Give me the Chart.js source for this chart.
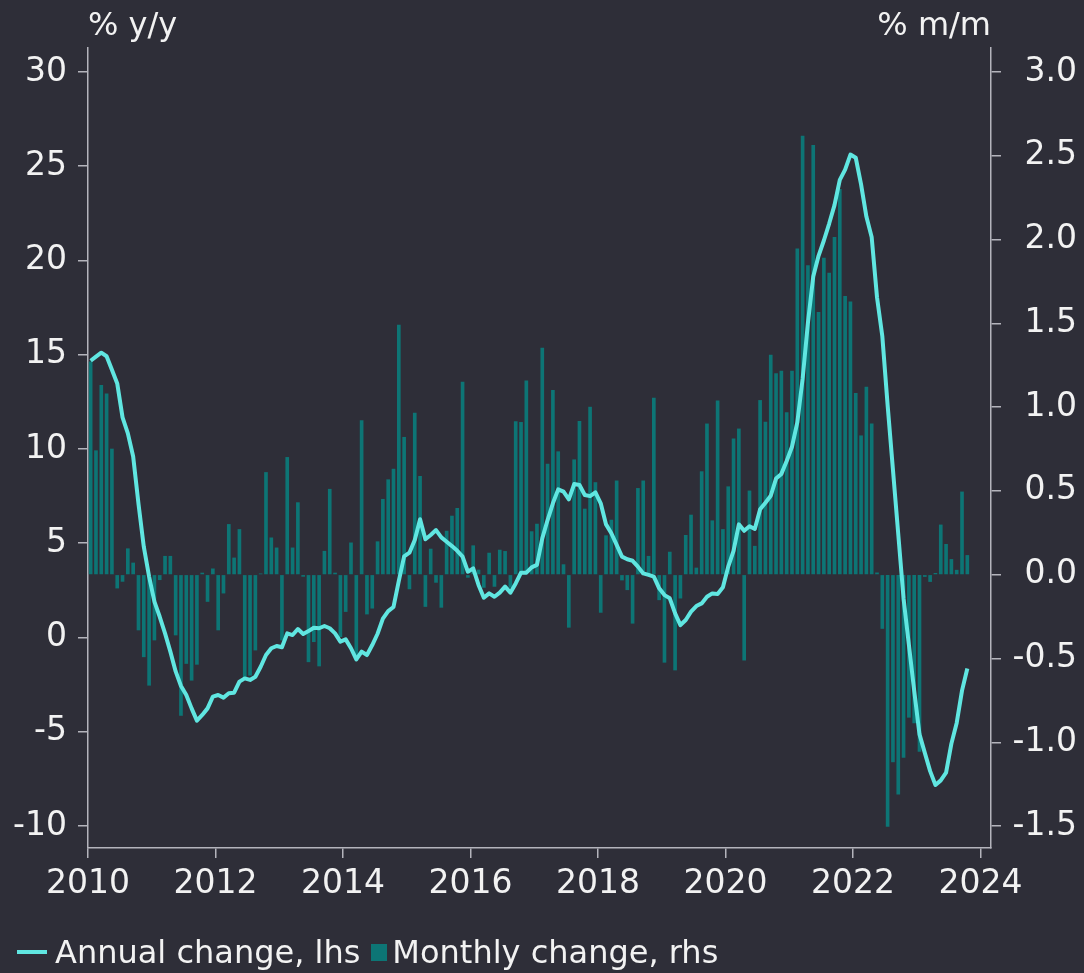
<!DOCTYPE html>
<html>
<head>
<meta charset="utf-8">
<title>Annual and monthly change</title>
<script src="https://cdn.jsdelivr.net/npm/chart.js@4.4.0/dist/chart.umd.min.js"></script>
<style>
  html, body { margin: 0; padding: 0; background: #2e2e38; }
  #wrap { position: relative; width: 1084px; height: 973px; background: #2e2e38; }
  #chart { display: block; }
  .legend {
    position: absolute; left: 17px; top: 932px; height: 40px;
    display: flex; align-items: center; white-space: nowrap;
    font: 32px "DejaVu Sans", sans-serif; line-height: 40px; color: #f2f2f2;
  }
  .swatch-line { width: 30px; height: 4px; background: #60e6e1; margin-right: 8px; }
  .swatch-box { width: 16px; height: 17px; background: #0d7575; margin: 0 5px 0 11px; }
</style>
</head>
<body>
<div id="wrap">
  <canvas id="chart"></canvas>
  <div class="legend">
    <span class="swatch-line"></span><span>Annual change, lhs</span>
    <span class="swatch-box"></span><span>Monthly change, rhs</span>
  </div>
</div>
<script>
// Monthly series, Jan 2010 - Oct 2023
const startYear = 2010

// Annual change, % y/y (left axis)
const annual = [
  14.68, 14.9, 15.11, 14.92, 14.2, 13.48, 11.68, 10.83, 9.6, 7.1, 4.82, 3.23,
  1.9, 1.1, 0.22, -0.75, -1.8, -2.57, -3.05, -3.76, -4.41, -4.11, -3.76, -3.14,
  -3.05, -3.19, -2.96, -2.93, -2.34, -2.17, -2.25, -2.08, -1.55, -0.93, -0.57, -0.45,
  -0.52, 0.22, 0.13, 0.45, 0.19, 0.34, 0.52, 0.49, 0.61, 0.49, 0.22, -0.22,
  -0.1, -0.57, -1.16, -0.75, -0.93, -0.4, 0.2, 1.0, 1.4, 1.62, 3.0, 4.3,
  4.5, 5.17, 6.27, 5.21, 5.44, 5.7, 5.31, 5.08, 4.85, 4.6, 4.29, 3.49,
  3.67, 2.79, 2.11, 2.34, 2.16, 2.38, 2.7, 2.38, 2.87, 3.44, 3.44, 3.72,
  3.85, 5.26, 6.23, 7.12, 7.86, 7.74, 7.33, 8.14, 8.09, 7.56, 7.5, 7.7,
  7.12, 6.0, 5.53, 4.91, 4.29, 4.15, 4.07, 3.76, 3.4, 3.32, 3.23, 2.61,
  2.25, 2.08, 1.28, 0.66, 0.93, 1.37, 1.67, 1.81, 2.16, 2.34, 2.31, 2.66,
  3.76, 4.6, 6.0, 5.66, 5.9, 5.76, 6.8, 7.15, 7.52, 8.43, 8.68, 9.36,
  10.12, 11.41, 13.72, 16.7, 19.15, 20.25, 21.06, 21.96, 22.94, 24.28, 24.82, 25.62,
  25.45, 24.04, 22.33, 21.23, 18.05, 15.98, 12.32, 8.9, 5.48, 2.06, -0.38, -2.82,
  -5.14, -6.12, -7.09, -7.82, -7.58, -7.17, -5.63, -4.53, -2.82, -1.64
]

// Monthly change, % m/m (right axis)
const monthly = [
  1.27, 0.74, 1.13, 1.08, 0.75, -0.08, -0.04, 0.155, 0.07, -0.33, -0.49, -0.66,
  -0.39, -0.03, 0.11, 0.11, -0.36, -0.84, -0.53, -0.63, -0.535, 0.01, -0.16, 0.035,
  -0.33, -0.11, 0.3, 0.1, 0.27, -0.61, -0.6, -0.45, 0.005, 0.61, 0.22, 0.16,
  -0.39, 0.7, 0.16, 0.43, -0.01, -0.52, -0.4, -0.545, 0.14, 0.51, 0.01, -0.37,
  -0.22, 0.19, -0.48, 0.92, -0.235, -0.2, 0.197, 0.45, 0.567, 0.63, 1.49, 0.82,
  -0.085, 0.965, 0.587, -0.19, 0.153, -0.046, -0.195, 0.26, 0.35, 0.396, 1.15, -0.016,
  0.173, 0.028, -0.076, 0.129, -0.07, 0.147, 0.139, -0.076, 0.913, 0.909, 1.157, 0.257,
  0.302, 1.352, 0.66, 1.1, 0.734, 0.06, -0.314, 0.686, 0.915, 0.392, 1.0, 0.55,
  -0.225, 0.233, 0.326, 0.56, -0.032, -0.09, -0.29, 0.515, 0.56, 0.11, 1.054, -0.15,
  -0.523, 0.135, -0.569, -0.14, 0.235, 0.356, 0.04, 0.615, 0.9, 0.322, 1.038, 0.27,
  0.525, 0.81, 0.87, -0.51, 0.5, 0.17, 1.04, 0.91, 1.31, 1.2, 1.215, 0.967,
  1.215, 1.944, 2.617, 1.845, 2.562, 1.565, 1.889, 1.8, 2.013, 2.3, 1.661, 1.628,
  1.082, 0.829, 1.12, 0.9, 0.011, -0.321, -1.502, -1.117, -1.31, -1.09, -0.851, -0.884,
  -1.054, -0.011, -0.041, 0.008, 0.297, 0.181, 0.091, 0.027, 0.494, 0.115
]

// Tick labels
const yearTicks = [2010, 2012, 2014, 2016, 2018, 2020, 2022, 2024]
const leftTicks = [-10, -5, 0, 5, 10, 15, 20, 25, 30]
const rightTicks = [-1.5, -1.0, -0.5, 0.0, 0.5, 1.0, 1.5, 2.0, 2.5, 3.0]

// Mid-month position of each observation on the year axis
const months = annual.map((_, i) => startYear + (i + 0.5) / 12)

const textColor = "#f2f2f2"
const axisColor = "#b4b4bc"

Chart.defaults.font.family = '"DejaVu Sans", sans-serif'
Chart.defaults.font.size = 33
Chart.defaults.color = textColor

// Unit labels above both value axes
const axisUnits = {
  id: "axisUnits",
  afterDraw(chart) {
    const { ctx, chartArea } = chart
    ctx.save()
    ctx.font = '32px "DejaVu Sans", sans-serif'
    ctx.fillStyle = textColor
    ctx.textBaseline = "alphabetic"
    ctx.textAlign = "left"
    ctx.fillText("% y/y", chartArea.left, 35)
    ctx.textAlign = "right"
    ctx.fillText("% m/m", chartArea.right, 35)
    ctx.restore()
  },
}

function axisLook() {
  return {
    border: { display: true, color: axisColor, width: 1.5 },
    grid: { offset: false, drawOnChartArea: false, drawTicks: true, tickLength: 10, tickColor: axisColor, lineWidth: 1.5 },
  }
}

new Chart(document.getElementById("chart"), {
  data: {
    datasets: [
      {
        type: "line",
        label: "Annual change, lhs",
        data: months.map((m, i) => ({ x: m, y: annual[i] })),
        yAxisID: "y",
        borderColor: "#60e6e1",
        borderWidth: 4,
        borderJoinStyle: "round",
        pointRadius: 0,
        tension: 0,
        order: 0,
      },
      {
        type: "bar",
        label: "Monthly change, rhs",
        data: months.map((m, i) => ({ x: m, y: monthly[i] })),
        yAxisID: "y1",
        backgroundColor: "#0d7575",
        barThickness: 3,
        order: 1,
      },
    ],
  },
  options: {
    responsive: true,
    maintainAspectRatio: false,
    animation: false,
    layout: { padding: { top: 48, bottom: 65, left: 0, right: 7 } },
    plugins: {
      legend: { display: false },
      tooltip: { enabled: false },
    },
    scales: {
      x: {
        type: "linear",
        offset: false,
        min: 2010,
        max: 2024.163,
        ...axisLook(),
        afterBuildTicks: (scale) => { scale.ticks = yearTicks.map((v) => ({ value: v })) },
        afterFit: (scale) => { scale.height = 60 },
        ticks: { padding: 7, maxRotation: 0, autoSkip: false, callback: (v) => String(v) },
      },
      y: {
        position: "left",
        min: -11.167,
        max: 31.273,
        ...axisLook(),
        afterBuildTicks: (scale) => { scale.ticks = leftTicks.map((v) => ({ value: v })) },
        afterFit: (scale) => { scale.width = 88 },
        ticks: { padding: 11, callback: (v) => String(v) },
      },
      y1: {
        position: "right",
        min: -1.631,
        max: 3.143,
        ...axisLook(),
        afterBuildTicks: (scale) => { scale.ticks = rightTicks.map((v) => ({ value: v })) },
        afterFit: (scale) => { scale.width = 86 },
        ticks: { padding: 11, crossAlign: "far", callback: (v) => v.toFixed(1) },
      },
    },
  },
  plugins: [axisUnits],
})
</script>
</body>
</html>
